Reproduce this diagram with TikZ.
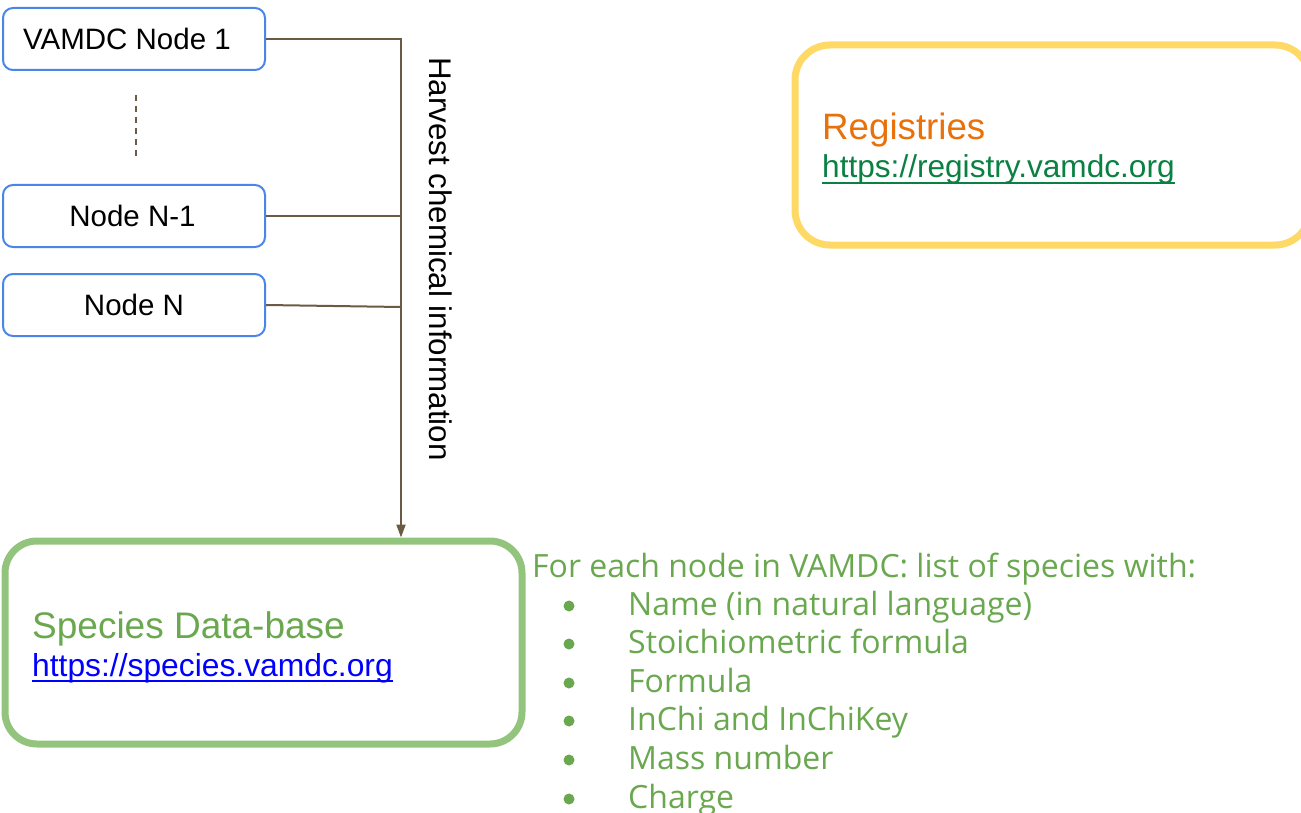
\documentclass[tikz,border=0pt]{standalone}
\usepackage{fontspec}
\setmainfont{Liberation Sans}
\newfontfamily\opensans{Open Sans}
\usetikzlibrary{arrows.meta}
\definecolor{nodeblue}{HTML}{4A86E8}
\definecolor{connbrown}{HTML}{6B5B45}
\definecolor{specgreen}{HTML}{93C47D}
\definecolor{textgreen}{HTML}{6AA84F}
\definecolor{regyellow}{HTML}{FFD966}
\definecolor{regorange}{HTML}{E8710A}
\definecolor{urlgreen}{HTML}{0B8043}
\definecolor{urlblue}{HTML}{0000FF}
\tikzset{
  vnode/.style={draw=nodeblue, line width=2pt, rounded corners=10pt, minimum width=262pt, minimum height=62pt, inner sep=0pt, font=\fontsize{29.5}{32}\selectfont, fill=white},
  conn/.style={draw=connbrown, line width=2pt},
  bigbox/.style={rounded corners=32pt, line width=7pt, inner sep=0pt},
  listtxt/.style={anchor=base west, inner sep=0pt, text=textgreen, font=\opensans\fontsize{32}{36}\selectfont},
  bul/.style={circle, fill=textgreen, inner sep=0pt, minimum size=11pt},
}
\begin{document}
\begin{tikzpicture}[x=1pt,y=-1pt]
\useasboundingbox (0,0) rectangle (1301,813);
% VAMDC nodes
\node[vnode] (n1) at (134,39) {\hspace*{-14pt}VAMDC Node 1};
\node[vnode] (nm1) at (134,216) {\hspace*{-3pt}Node N-1};
\node[vnode] (nn) at (134,305) {Node N};
\coordinate (d1) at (136,95);
\coordinate (d2) at (136,159);
\draw[conn, dash pattern=on 6pt off 5pt] (d1) -- (d2);
% Species box
\node[draw=specgreen, bigbox, minimum width=517pt, minimum height=203pt] (sp) at (263.5,642.5) {};
\node[anchor=base west, inner sep=0pt, text=textgreen, font=\fontsize{37}{40}\selectfont] (sptitle) at (32,638) {Species Data-base};
\node[anchor=base west, inner sep=0pt, text=urlblue, font=\fontsize{31.8}{36}\selectfont] (spurl) at (32,676) {https://species.vamdc.org};
\draw[urlblue, line width=2pt] ([yshift=-5pt]spurl.base west) -- ([yshift=-5pt]spurl.base east);
% Registries box
\node[draw=regyellow, bigbox, rounded corners=35pt, minimum width=515pt, minimum height=200pt] (reg) at (1052.5,145) {};
\node[anchor=base west, inner sep=0pt, text=regorange, font=\fontsize{36.7}{40}\selectfont] (regtitle) at (822,140) {Registries};
\node[anchor=base west, inner sep=0pt, text=urlgreen, font=\fontsize{31.6}{36}\selectfont] (regurl) at (822,178) {https://registry.vamdc.org};
\draw[urlgreen, line width=2pt] ([yshift=-5pt]regurl.base west) -- ([yshift=-5pt]regurl.base east);
% Connectors
\coordinate (j1) at (401,39);
\coordinate (jm1) at (401,216);
\coordinate (jn) at (401,307);
\draw[conn, -{Triangle[length=13pt,width=9pt]}] (n1.east) -- (j1) -- (sp.north -| j1);
\draw[conn] (nm1.east) -- (jm1);
\draw[conn] (nn.east) -- (jn);
\node[rotate=-90, anchor=base west, inner sep=0pt, font=\fontsize{31.3}{34}\selectfont] (harv) at (429,57) {Harvest chemical information};
% List
\node[listtxt] (lh) at (532,577) {For each node in VAMDC: list of species with:};
\node[listtxt] (l1) at (628,615) {Name (in natural language)};
\node[listtxt] (l2) at (628,653) {Stoichiometric formula};
\node[listtxt] (l3) at (628,692) {Formula};
\node[listtxt] (l4) at (628,730) {InChi and InChiKey};
\node[listtxt] (l5) at (628,769) {Mass number};
\node[listtxt] (l6) at (628,808) {Charge};
\node[bul] (b1) at (569,606) {};
\node[bul] (b2) at (569,644) {};
\node[bul] (b3) at (569,683) {};
\node[bul] (b4) at (569,721) {};
\node[bul] (b5) at (569,760) {};
\node[bul] (b6) at (569,799) {};
\end{tikzpicture}
\end{document}
